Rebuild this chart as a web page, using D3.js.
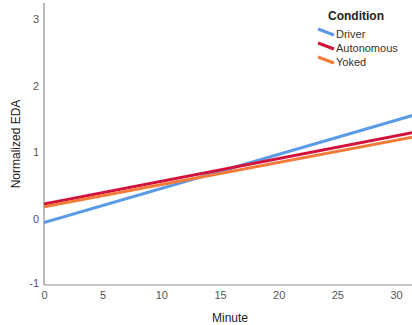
<!DOCTYPE html>
<html>
<head>
<meta charset="utf-8">
<script src="https://cdn.jsdelivr.net/npm/d3@7"></script>
<style>
body { margin: 0; background: #fff; }
svg text { font-family: "Liberation Sans", Arial, sans-serif; }
</style>
</head>
<body>
<div id="chart"></div>
<script>

// fitted lines (minute 0 and minute 32)
var minutes = [0, 32];
var driver = [-0.06, 1.58];
var autonomous = [0.218, 1.312];
var yoked = [0.177, 1.242];

var conditions = ["Driver", "Autonomous", "Yoked"];
var colors = ["#5b9be6", "#d2123c", "#f47a38"];
var yTicks = [-1, 0, 1, 2, 3];
var xTicks = [0, 5, 10, 15, 20, 25, 30];

var width = 412, height = 325;

var svg = d3.select("#chart").append("svg")
    .attr("width", width)
    .attr("height", height);

var x = d3.scaleLinear().domain([0, 30]).range([44, 396]);
var y = d3.scaleLinear().domain([-1, 3]).range([285, 19]);

svg.append("clipPath").attr("id", "clip")
  .append("rect")
    .attr("x", 44).attr("y", 3)
    .attr("width", width - 44).attr("height", 282);

// axes
var xAxis = svg.append("g")
    .attr("transform", "translate(0,285)")
    .call(d3.axisBottom(x).tickValues(xTicks).tickSize(0).tickPadding(6));
xAxis.select(".domain").remove();
xAxis.append("line")
    .attr("x1", 44).attr("x2", width)
    .attr("stroke", "#8c8c8c").attr("stroke-width", 1.2);
xAxis.selectAll("text")
    .attr("fill", "#555").style("font-size", "11px");

var yAxis = svg.append("g")
    .attr("transform", "translate(44,0)")
    .call(d3.axisLeft(y).tickValues(yTicks).tickSize(0).tickPadding(5)
      .tickFormat(function(d){ return String(d); }));
yAxis.select(".domain").remove();
yAxis.append("line")
    .attr("y1", 3).attr("y2", 285)
    .attr("stroke", "#8c8c8c").attr("stroke-width", 1.2);
yAxis.selectAll("text")
    .attr("fill", "#555").style("font-size", "11px");
// -1 label sits a bit higher, next to the corner
yAxis.selectAll(".tick").filter(function(d){ return d == -1; })
    .select("text").attr("dy", "0.1em").attr("x", -5);

// lines
var series = [driver, autonomous, yoked];
var line = d3.line()
    .x(function(d, i){ return x(minutes[i]); })
    .y(function(d){ return y(d); });

svg.append("g").attr("clip-path", "url(#clip)")
  .selectAll("path")
  .data(series)
  .enter().append("path")
    .attr("d", line)
    .attr("fill", "none")
    .attr("stroke", function(d, i){ return colors[i]; })
    .attr("stroke-width", 3);

// axis titles
svg.append("text")
    .attr("x", 230).attr("y", 322)
    .attr("text-anchor", "middle")
    .style("font-size", "12px")
    .attr("fill", "#222")
    .text("Minute");

svg.append("text")
    .attr("transform", "translate(20,144) rotate(-90)")
    .attr("text-anchor", "middle")
    .style("font-size", "12px")
    .attr("fill", "#222")
    .text("Normalized EDA");

// legend
svg.append("text")
    .attr("x", 356).attr("y", 20)
    .attr("text-anchor", "middle")
    .style("font-size", "12px")
    .style("font-weight", "bold")
    .attr("fill", "#222")
    .text("Condition");

var legend = svg.selectAll(".legend")
    .data(conditions)
  .enter().append("g")
    .attr("class", "legend")
    .attr("transform", function(d, i){ return "translate(0," + (34 + i * 14) + ")"; });

legend.append("line")
    .attr("x1", 318).attr("y1", -5)
    .attr("x2", 334).attr("y2", 1)
    .attr("stroke", function(d, i){ return colors[i]; })
    .attr("stroke-width", 3);

legend.append("text")
    .attr("x", 336).attr("y", 4)
    .style("font-size", "11px")
    .attr("fill", "#333")
    .text(function(d){ return d; });

</script>
</body>
</html>
